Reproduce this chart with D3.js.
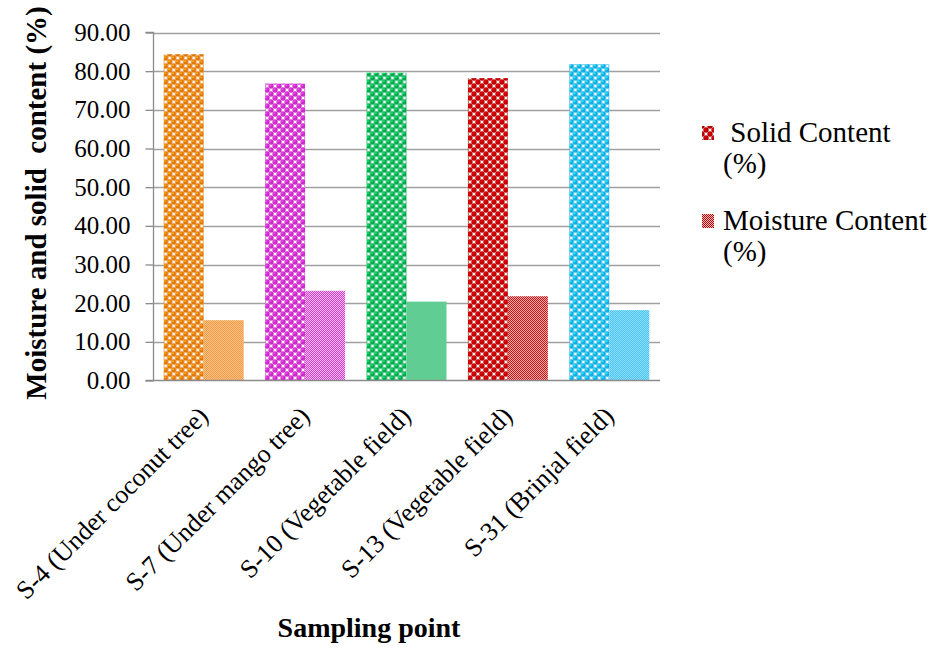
<!DOCTYPE html>
<html>
<head>
<meta charset="utf-8">
<script src="https://cdn.jsdelivr.net/npm/d3@7"></script>
<style>
  html, body { margin: 0; padding: 0; background: #fff; }
  svg { display: block; }
  text { font-family: "Liberation Serif", "Times New Roman", serif; fill: #000; }
</style>
</head>
<body>
<svg id="chart" width="934" height="648"></svg>
<script>
const categories = [
  "S-4 (Under coconut tree)",
  "S-7 (Under mango tree)",
  "S-10 (Vegetable field)",
  "S-13 (Vegetable field)",
  "S-31 (Brinjal field)"
];
const series = ["Solid Content (%)", "Moisture Content (%)"];
const solidContent = [84.4, 76.8, 79.6, 78.2, 81.8];
const moistureContent = [15.6, 23.2, 20.4, 21.8, 18.2];
const categoryColors = ["#F07D0A", "#D62FD0", "#00B050", "#C80000", "#12B4F0"];
const yTicks = [0, 10, 20, 30, 40, 50, 60, 70, 80, 90];

const svg = d3.select("#chart");
const margin = { left: 153, right: 274, top: 32.5, bottom: 268 };
const W = 934, H = 648;
const x0 = margin.left, x1 = W - margin.right;
const yTop = margin.top, yBot = H - margin.bottom + 0.5;

const x = d3.scaleBand().domain(categories).range([x0, x1]).paddingInner(0.211).paddingOuter(0.1055);
const xs = d3.scaleBand().domain(series).range([0, x.bandwidth()]);
const y = d3.scaleLinear().domain([0, 90]).range([yBot, yTop]);

// patterns
const defs = svg.append("defs");
function sphereId(i) { return "sph" + i; }
function checkId(i) { return "chk" + i; }
function addPatterns(i, col) {
  const c = d3.color(col);
  const p = defs.append("pattern").attr("id", sphereId(i))
    .attr("patternUnits", "userSpaceOnUse").attr("width", 8).attr("height", 8);
  p.append("rect").attr("width", 8).attr("height", 8).attr("fill", "#fff");
  [[2, 2], [6, 6], [-2, 6], [6, -2], [2, 10], [10, 2]].forEach(([cx, cy]) => {
    p.append("circle").attr("cx", cx).attr("cy", cy).attr("r", 2.7).attr("fill", c.darker(0.15));
    p.append("circle").attr("cx", cx - 0.7).attr("cy", cy - 0.7).attr("r", 1.0).attr("fill", c.brighter(1.0));
  });
  const q = defs.append("pattern").attr("id", checkId(i))
    .attr("patternUnits", "userSpaceOnUse").attr("width", 2).attr("height", 2);
  q.append("rect").attr("width", 2).attr("height", 2).attr("fill", d3.interpolateRgb(col, "#fff")(0.75));
  q.append("rect").attr("x", 0).attr("y", 0).attr("width", 1).attr("height", 1).attr("fill", col);
  q.append("rect").attr("x", 1).attr("y", 1).attr("width", 1).attr("height", 1).attr("fill", col);
}
categoryColors.forEach((c, i) => addPatterns(i, c));
addPatterns(99, "#C00000");

// gridlines
svg.append("g").selectAll("line").data(yTicks.slice(1)).join("line")
  .attr("x1", x0).attr("x2", x1)
  .attr("y1", d => Math.round(y(d)) + 0.5).attr("y2", d => Math.round(y(d)) + 0.5)
  .attr("stroke", "#a0a0a0").attr("stroke-width", 1.3);

// bars
const groups = svg.append("g").selectAll("g").data(categories).join("g")
  .attr("transform", d => `translate(${x(d)},0)`);
groups.each(function(cat, i) {
  const g = d3.select(this);
  const vals = [solidContent[i], moistureContent[i]];
  g.selectAll("rect").data(series).join("rect")
    .attr("x", s => xs(s))
    .attr("width", xs.bandwidth())
    .attr("y", (s, j) => y(vals[j]))
    .attr("height", (s, j) => y(0) - y(vals[j]))
    .attr("fill", (s, j) => j === 0 ? `url(#${sphereId(i)})` : `url(#${checkId(i)})`);
});

// y axis
const yAxis = svg.append("g").attr("transform", `translate(${x0 + 0.5},0)`)
  .call(d3.axisLeft(y).tickValues(yTicks).tickSize(8).tickPadding(15).tickFormat(d3.format(".2f")));
yAxis.attr("font-family", null).attr("font-size", null);
yAxis.select(".domain").attr("stroke", "#8c8c8c").attr("stroke-width", 1.3).attr("d", `M-8,${yTop}H0V${yBot}H-8`);
yAxis.selectAll(".tick line").attr("stroke", "#8c8c8c").attr("stroke-width", 1.3);
yAxis.selectAll(".tick text").attr("font-size", 25).attr("fill", "#000");

// x axis baseline
svg.append("line").attr("x1", x0).attr("x2", x1).attr("y1", yBot).attr("y2", yBot)
  .attr("stroke", "#8c8c8c").attr("stroke-width", 1.3);

// x labels
svg.append("g").selectAll("text").data(categories).join("text")
  .attr("transform", d => `translate(${x(d) + x.bandwidth() / 2 + 6},${yBot + 37}) rotate(-45)`)
  .attr("text-anchor", "end")
  .attr("font-size", 26)
  .text(d => d);

// axis titles
svg.append("text")
  .attr("transform", `translate(46,${203}) rotate(-90)`)
  .attr("text-anchor", "middle")
  .attr("font-size", 29).attr("font-weight", "bold")
  .attr("xml:space", "preserve")
  .text("Moisture and solid  content (%)");
svg.append("text")
  .attr("x", 369).attr("y", 637)
  .attr("text-anchor", "middle")
  .attr("font-size", 28).attr("font-weight", "bold")
  .text("Sampling point");

// legend
const legend = svg.append("g");
const legendItems = [
  { lines: [" Solid Content", "(%)"], fill: `url(#${sphereId(99)})`, y: 142 },
  { lines: ["Moisture Content", "(%)"], fill: `url(#${checkId(99)})`, y: 230 }
];
legendItems.forEach(it => {
  legend.append("rect").attr("x", 702).attr("y", it.y - 16).attr("width", 12).attr("height", 14).attr("fill", it.fill);
  const t = legend.append("text").attr("x", 723).attr("y", it.y).attr("font-size", 29).attr("xml:space", "preserve");
  t.append("tspan").attr("x", 723).attr("y", it.y).text(it.lines[0]);
  t.append("tspan").attr("x", 723).attr("y", it.y + 31).text(it.lines[1]);
});
</script>
</body>
</html>
